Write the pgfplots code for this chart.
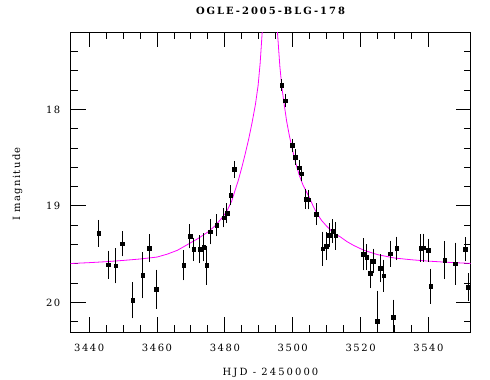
\documentclass[border=0pt]{standalone}
\usepackage{fontspec}
\usepackage{pgfplots}
\usepackage{pgfplotstable}
\pgfplotsset{compat=1.18}
\newfontfamily\lsp{DejaVu Serif}[LetterSpace=16]
\newfontfamily\lspx{DejaVu Serif}[LetterSpace=21]
\newfontfamily\lspt{DejaVu Serif Bold}[LetterSpace=20]
\newfontfamily\lspy{DejaVu Serif}[LetterSpace=14]
\definecolor{curvemag}{RGB}{255,0,255}
\pgfplotstableread{
t m e
3442.8 19.285 0.098
3445.6 19.61 0.104
3447.8 19.621 0.14
3449.7 19.393 0.088
3452.8 19.979 0.145
3455.75 19.72 0.197
3457.7 19.437 0.104
3459.7 19.862 0.16
3467.85 19.617 0.114
3469.7 19.316 0.083
3470.8 19.451 0.08
3472.65 19.448 0.104
3473.75 19.43 0.104
3474.6 19.617 0.16
3475.7 19.268 0.088
3477.65 19.202 0.073
3479.65 19.123 0.057
3480.6 19.075 0.062
3481.7 18.891 0.062
3482.7 18.622 0.047
3496.7 17.746 0.02
3497.8 17.907 0.03
3499.9 18.373 0.03
3500.7 18.494 0.04
3501.9 18.603 0.04
3502.65 18.665 0.04
3503.8 18.93 0.059
3504.7 18.935 0.059
3506.9 19.085 0.073
3508.85 19.442 0.135
3509.8 19.417 0.104
3510.8 19.303 0.083
3511.8 19.261 0.083
3512.7 19.31 0.104
3520.7 19.503 0.124
3521.8 19.53 0.093
3522.8 19.70 0.11
3523.8 19.57 0.086
3524.9 20.194 0.275
3525.75 19.648 0.104
3526.85 19.722 0.124
3528.7 19.494 0.093
3529.7 20.152 0.14
3530.6 19.44 0.08
3537.7 19.437 0.104
3538.6 19.432 0.104
3540.0 19.458 0.078
3540.7 19.831 0.14
3544.8 19.562 0.155
3547.9 19.598 0.176
3550.8 19.451 0.083
3551.7 19.845 0.104
}\datatable
\begin{document}
\begin{tikzpicture}
\useasboundingbox (0,0) rectangle (490bp,380bp);
\begin{axis}[
  at={(70.5bp,47.7bp)}, anchor=south west,
  scale only axis, width=400bp, height=300bp,
  xmin=3434.5, xmax=3552.4,
  ymin=17.2, ymax=20.31, y dir=reverse,
  xtick={3440,3460,...,3540}, minor x tick num=3,
  ytick={18,19,20}, minor ytick={17.2,17.4,...,20.3},
  tick align=inside,
  major tick length=15bp, minor tick length=7bp,
  axis line style={line width=1bp},
  every tick/.style={black, line width=0.9bp},
  /pgf/number format/1000 sep={},
  /pgf/number format/assume math mode=true,
  xticklabel style={font=\fontsize{10}{12}\lsp, anchor=base, inner sep=0pt, yshift=-19bp},
  yticklabel style={font=\fontsize{10}{12}\lsp, anchor=east, inner sep=0pt, xshift=-10bp},
  clip=true,
]
\addplot[curvemag, line width=0.8bp] coordinates {
(3434.5,19.597) (3440,19.588) (3445,19.578) (3450,19.565) (3455,19.550)
(3460,19.530) (3463,19.50) (3466,19.46) (3469,19.40) (3472,19.34)
(3475,19.27) (3477,19.21) (3479,19.13) (3480.5,19.06) (3482,18.95)
(3483,18.84) (3484,18.73) (3485,18.60) (3486,18.46) (3487,18.31)
(3488,18.14) (3489,17.95) (3489.8,17.75) (3490.4,17.52) (3491,17.2)
(3491.5,16.95) (3492.2,16.6) (3493.25,16.3) (3494.3,16.6) (3495.0,16.95)
(3495.5,17.2) (3496.2,17.55) (3496.8,17.77) (3497.5,17.95) (3498.2,18.12)
(3499,18.27) (3500,18.43) (3501,18.57) (3502,18.69) (3503,18.78)
(3504,18.85) (3505,18.92) (3506,19.00) (3507,19.07) (3508.5,19.15)
(3510,19.21) (3512,19.28) (3514,19.32) (3516,19.37) (3518,19.41)
(3521,19.46) (3525,19.505) (3530,19.54) (3535,19.558) (3540,19.572)
(3546,19.585) (3552.5,19.596)
};
\addplot[only marks, mark=square*, mark size=1.8bp, black,
  error bars/.cd, y dir=both, y explicit,
  error mark options={black, mark size=4bp, line width=0.9bp},
  error bar style={black, line width=0.9bp}]
  table[x=t, y=m, y error=e] {\datatable};
\end{axis}
\node[anchor=base, inner sep=0pt, font=\fontsize{10}{12}\lspt] at (270.5bp,365bp) {OGLE-2005-BLG-178};
\node[anchor=base, inner sep=0pt, font=\fontsize{10}{12}\lspx] at (270.5bp,5bp) {HJD - 2450000};
\node[anchor=base, inner sep=0pt, rotate=90, font=\fontsize{10}{12}\lspy] at (20bp,196bp) {I magnitude};
\end{tikzpicture}
\end{document}
